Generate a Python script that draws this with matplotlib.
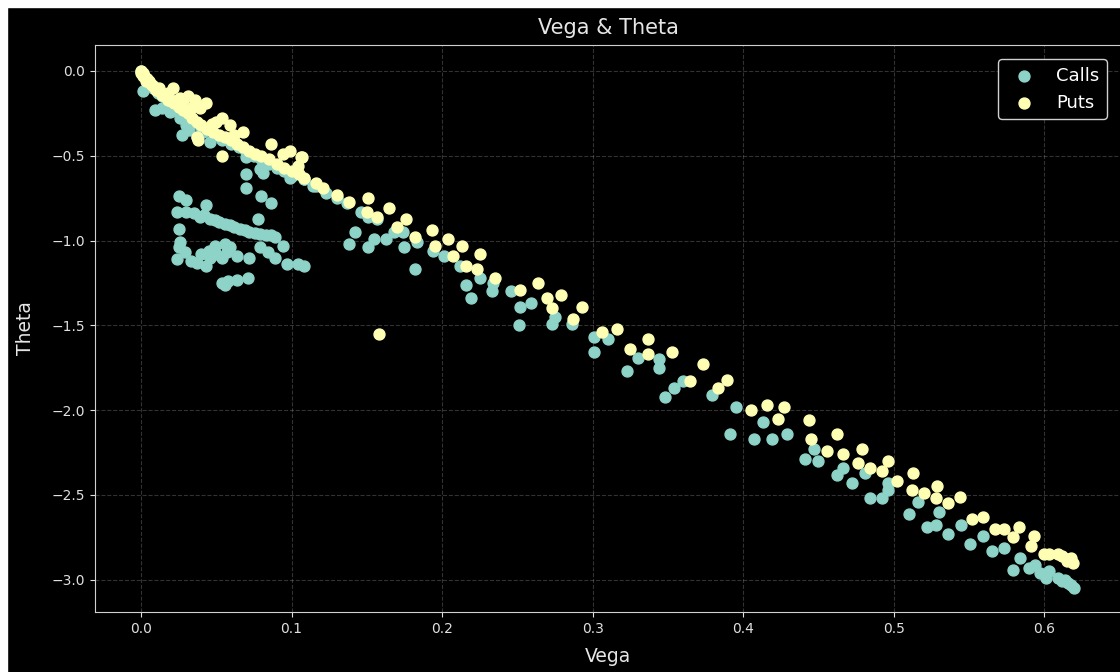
import matplotlib.pyplot as plt
from matplotlib.patches import Rectangle

plt.style.use('dark_background')

# --- data (vega, theta) ---
calls_vega = [
    # main band near the origin
    0.000, 0.002, 0.004, 0.006, 0.008, 0.011, 0.014, 0.017, 0.020, 0.024, 0.028, 0.032, 0.036,
    0.040, 0.045, 0.050, 0.055, 0.060, 0.065, 0.070, 0.075, 0.080, 0.085, 0.090, 0.095, 0.100,
    # scattered near the origin
    0.001, 0.009, 0.014, 0.019, 0.027, 0.030, 0.026, 0.046, 0.037, 0.054, 0.070, 0.070, 0.079,
    0.070, 0.080, 0.086, 0.078, 0.081, 0.099, 0.108, 0.114, 0.032, 0.041,
    # lower cluster
    0.025, 0.030, 0.043, 0.024, 0.030, 0.035, 0.039, 0.046, 0.052, 0.059, 0.066, 0.072, 0.079,
    0.086, 0.089, 0.042, 0.049, 0.056, 0.062, 0.069, 0.076, 0.083, 0.025, 0.094,
    0.026, 0.025, 0.029, 0.024, 0.033, 0.037, 0.043, 0.040, 0.045, 0.050, 0.049, 0.056, 0.059,
    0.064, 0.054, 0.046, 0.057, 0.072, 0.079, 0.084, 0.089, 0.097, 0.104, 0.108,
    0.054, 0.058, 0.064, 0.071, 0.056,
    # middle
    0.108, 0.116, 0.123, 0.130, 0.137, 0.146, 0.151, 0.157, 0.142, 0.138, 0.151, 0.155, 0.163,
    0.168, 0.174, 0.175, 0.183, 0.182, 0.194, 0.201, 0.212, 0.225, 0.216, 0.219, 0.234, 0.233,
    0.246, 0.252, 0.259, 0.251, 0.273, 0.275, 0.286, 0.301, 0.301, 0.310, 0.323, 0.330, 0.344,
    0.344,
    # right
    0.348, 0.354, 0.360, 0.379, 0.395, 0.391, 0.413, 0.407, 0.419, 0.429, 0.447, 0.441, 0.450,
    0.466, 0.462, 0.472, 0.481, 0.496, 0.496, 0.484, 0.492, 0.516, 0.510, 0.530, 0.522, 0.528,
    0.536, 0.545, 0.551, 0.559, 0.565, 0.573, 0.584, 0.579, 0.590, 0.594, 0.601, 0.603, 0.609,
    0.614, 0.618, 0.620, 0.597, 0.612, 0.616,
]
calls_theta = [
    0.00, -0.03, -0.05, -0.08, -0.10, -0.13, -0.15, -0.18, -0.20, -0.23, -0.25, -0.28, -0.30,
    -0.33, -0.35, -0.38, -0.40, -0.43, -0.45, -0.48, -0.50, -0.52, -0.55, -0.57, -0.59, -0.62,
    -0.12, -0.23, -0.22, -0.24, -0.38, -0.32, -0.28, -0.42, -0.39, -0.41, -0.51, -0.61, -0.58,
    -0.69, -0.74, -0.78, -0.87, -0.60, -0.63, -0.64, -0.68, -0.35, -0.36,
    -0.74, -0.76, -0.79, -0.83, -0.83, -0.84, -0.86, -0.87, -0.89, -0.91, -0.93, -0.95, -0.96,
    -0.97, -0.98, -0.85, -0.88, -0.90, -0.92, -0.94, -0.955, -0.965, -0.93, -1.03,
    -1.01, -1.04, -1.07, -1.11, -1.12, -1.13, -1.15, -1.08, -1.06, -1.08, -1.03, -1.02, -1.04,
    -1.09, -1.10, -1.10, -1.07, -1.10, -1.04, -1.07, -1.10, -1.14, -1.14, -1.15,
    -1.25, -1.24, -1.23, -1.22, -1.26,
    -0.64, -0.68, -0.72, -0.75, -0.78, -0.83, -0.86, -0.87, -0.95, -1.02, -1.04, -0.99, -0.99,
    -0.95, -0.95, -1.04, -1.01, -1.17, -1.06, -1.09, -1.15, -1.22, -1.26, -1.34, -1.25, -1.30,
    -1.30, -1.39, -1.37, -1.50, -1.49, -1.45, -1.49, -1.57, -1.66, -1.58, -1.77, -1.69, -1.70,
    -1.75,
    -1.92, -1.87, -1.83, -1.91, -1.98, -2.14, -2.07, -2.17, -2.17, -2.14, -2.23, -2.29, -2.30,
    -2.34, -2.38, -2.43, -2.37, -2.43, -2.47, -2.52, -2.52, -2.54, -2.61, -2.60, -2.69, -2.68,
    -2.73, -2.68, -2.79, -2.74, -2.83, -2.81, -2.87, -2.94, -2.93, -2.91, -2.99, -2.95, -2.99,
    -3.00, -3.03, -3.05, -2.96, -3.01, -3.02,
]

puts_vega = [
    # main band near the origin
    0.000, 0.000, 0.001, 0.002, 0.003, 0.004, 0.005, 0.006, 0.008, 0.010, 0.012, 0.014, 0.016,
    0.018, 0.020, 0.022, 0.025, 0.028, 0.031, 0.034, 0.037, 0.040, 0.044, 0.048, 0.052, 0.056,
    0.060, 0.064, 0.068, 0.072, 0.076, 0.080, 0.085, 0.090, 0.095, 0.100, 0.105,
    # scattered near the origin
    0.021, 0.028, 0.031, 0.036, 0.039, 0.037, 0.038, 0.054, 0.054, 0.050, 0.059, 0.068, 0.086,
    0.094, 0.099, 0.106, 0.104, 0.043, 0.026, 0.001, 0.003, 0.007, 0.012, 0.018, 0.024, 0.033,
    0.047, 0.062,
    # middle
    0.107, 0.108, 0.116, 0.121, 0.130, 0.138, 0.151, 0.150, 0.157, 0.165, 0.176, 0.170, 0.182,
    0.193, 0.195, 0.204, 0.207, 0.213, 0.225, 0.216, 0.223, 0.235, 0.252, 0.264, 0.270, 0.279,
    0.273, 0.287, 0.293, 0.158, 0.306, 0.316, 0.325, 0.337, 0.337, 0.353, 0.373,
    # right
    0.365, 0.383, 0.389, 0.405, 0.416, 0.427, 0.423, 0.444, 0.445, 0.456, 0.462, 0.466, 0.476,
    0.479, 0.484, 0.492, 0.496, 0.502, 0.513, 0.512, 0.520, 0.529, 0.528, 0.536, 0.544, 0.552,
    0.559, 0.567, 0.573, 0.579, 0.583, 0.593, 0.591, 0.600, 0.609, 0.615, 0.603, 0.612, 0.618,
    0.619, 0.615,
]
puts_theta = [
    0.00, -0.01, -0.01, -0.03, -0.04, -0.05, -0.06, -0.07, -0.09, -0.11, -0.12, -0.14, -0.15,
    -0.17, -0.18, -0.19, -0.21, -0.23, -0.25, -0.28, -0.30, -0.32, -0.34, -0.36, -0.38, -0.39,
    -0.41, -0.43, -0.45, -0.47, -0.49, -0.50, -0.52, -0.55, -0.57, -0.59, -0.61,
    -0.10, -0.17, -0.15, -0.17, -0.22, -0.39, -0.41, -0.50, -0.28, -0.30, -0.32, -0.36, -0.43,
    -0.49, -0.47, -0.51, -0.56, -0.19, -0.16, -0.03, -0.06, -0.08, -0.10, -0.13, -0.17, -0.22,
    -0.31, -0.38,
    -0.51, -0.63, -0.66, -0.69, -0.73, -0.77, -0.75, -0.83, -0.86, -0.81, -0.87, -0.92, -0.98,
    -0.94, -1.03, -0.99, -1.09, -1.03, -1.08, -1.15, -1.17, -1.22, -1.29, -1.25, -1.34, -1.32,
    -1.40, -1.46, -1.39, -1.55, -1.54, -1.52, -1.64, -1.58, -1.67, -1.66, -1.73,
    -1.83, -1.87, -1.82, -2.00, -1.97, -1.98, -2.05, -2.06, -2.17, -2.24, -2.14, -2.26, -2.31,
    -2.23, -2.34, -2.36, -2.30, -2.42, -2.37, -2.47, -2.49, -2.45, -2.52, -2.55, -2.51, -2.64,
    -2.63, -2.70, -2.70, -2.75, -2.69, -2.74, -2.80, -2.85, -2.85, -2.89, -2.85, -2.86, -2.87,
    -2.90, -2.88,
]

# === figure ===
fig = plt.figure(figsize=(11.2, 6.72), dpi=100, facecolor='black')
ax = fig.add_axes([95 / 1120, 1 - 612 / 672, (1121 - 95) / 1120, (612 - 45) / 672])

ax.scatter(calls_vega, calls_theta, s=62, color='#8dd3c7', label='Calls', zorder=2)
ax.scatter(puts_vega, puts_theta, s=62, color='#feffb3', label='Puts', zorder=3)

ax.set_xlim(-0.0306, 0.651)
ax.set_ylim(-3.19, 0.153)
ax.set_xticks([0.0, 0.1, 0.2, 0.3, 0.4, 0.5, 0.6])
ax.set_yticks([0.0, -0.5, -1.0, -1.5, -2.0, -2.5, -3.0])

ax.set_title('Vega & Theta', fontsize=15, color='#e6e6e6', pad=8)
ax.set_xlabel('Vega', fontsize=13.5, color='#e6e6e6', labelpad=8)
ax.set_ylabel('Theta', fontsize=13.5, color='#e6e6e6', labelpad=12)
ax.tick_params(labelsize=10, colors='#e0e0e0')
for sp in ax.spines.values():
    sp.set_color('#d0d0d0')

ax.grid(True, linestyle='--', color='white', alpha=0.2, linewidth=0.8)
ax.set_axisbelow(True)

leg = ax.legend(loc='upper right', fontsize=13, frameon=True, facecolor='black',
                edgecolor='#d0d0d0', framealpha=1.0, borderaxespad=0.8)

# white strips at the top and left edge, as in the reference screenshot
fig.patches.append(Rectangle((0, 1 - 7 / 672), 1, 7 / 672, transform=fig.transFigure,
                             color='white', zorder=10))
fig.patches.append(Rectangle((0, 0), 7 / 1120, 1, transform=fig.transFigure,
                             color='white', zorder=10))

fig.savefig('out.png', dpi=100, facecolor='black')
